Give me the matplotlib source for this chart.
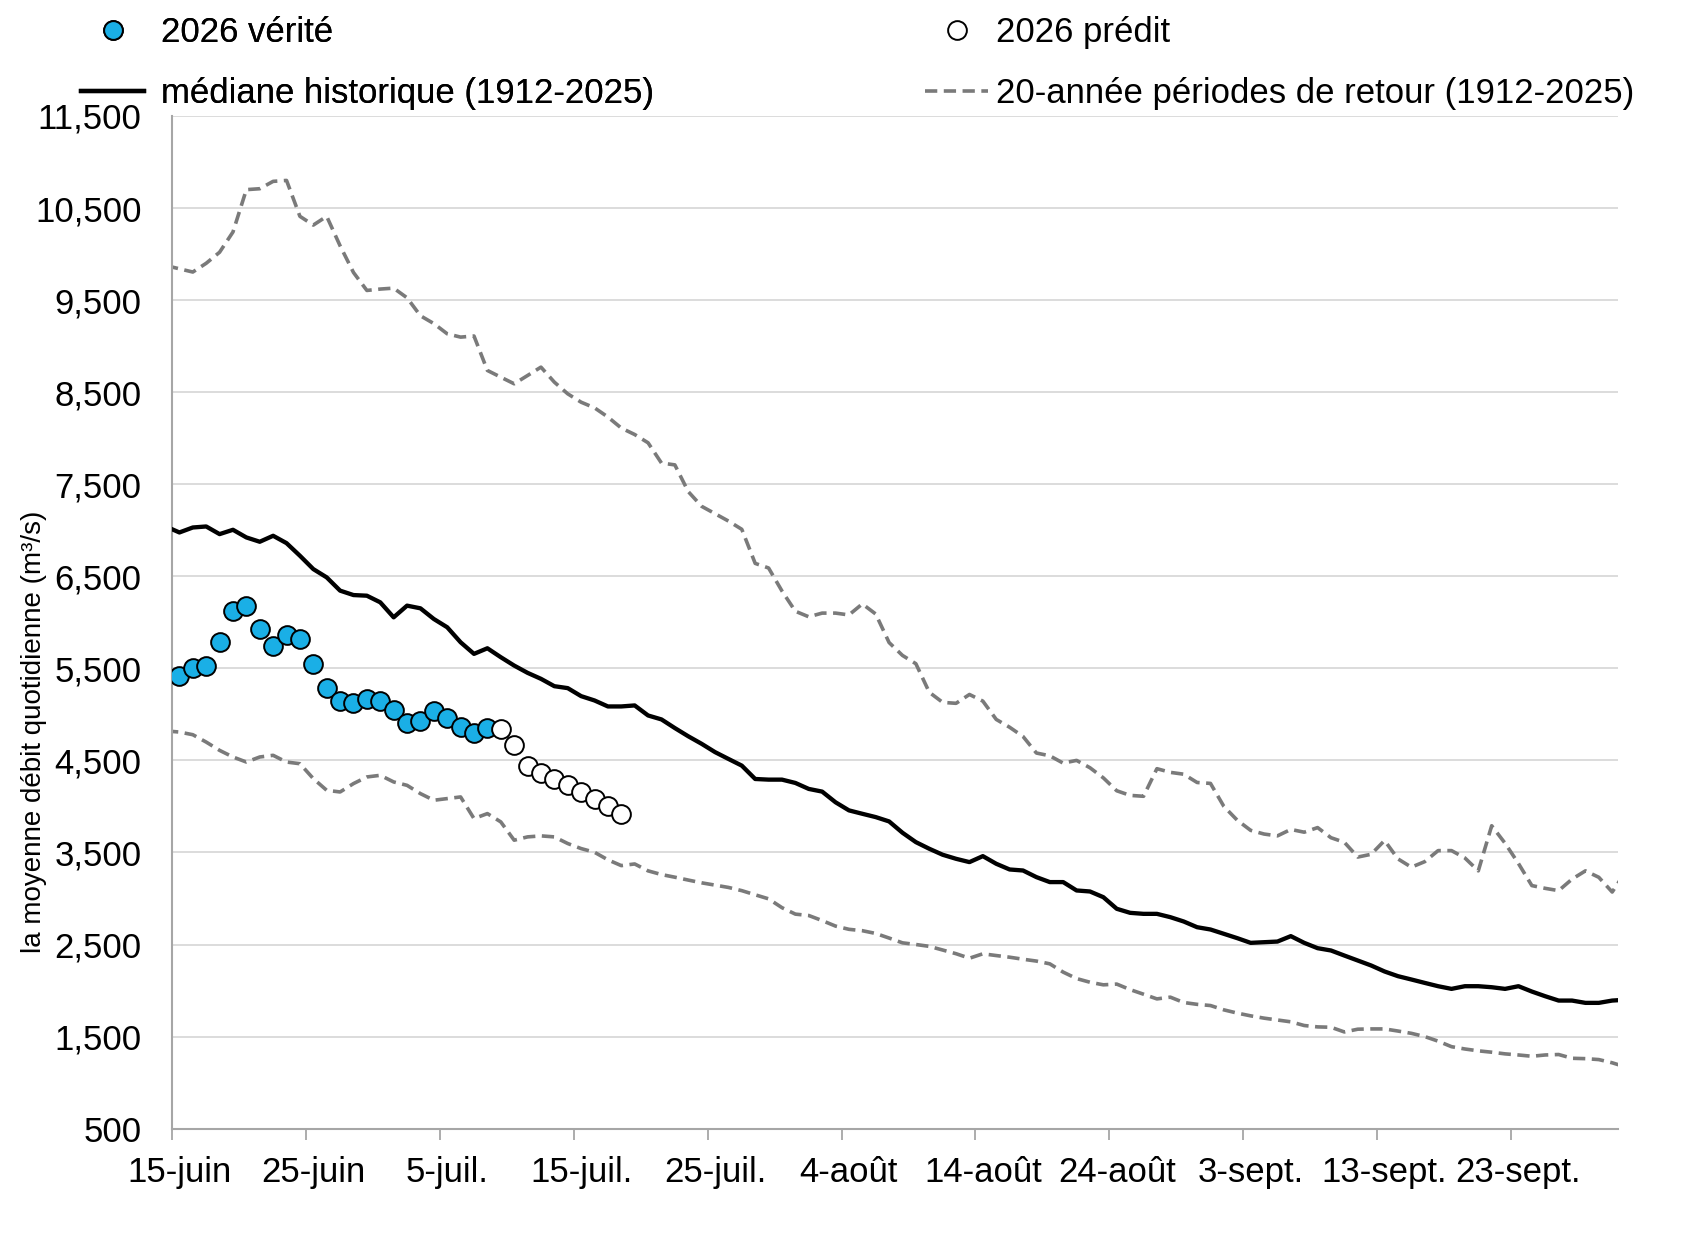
import matplotlib
matplotlib.use("Agg")
import matplotlib.pyplot as plt
from matplotlib.lines import Line2D
from matplotlib.ticker import FuncFormatter, FixedLocator

# ---------------- data ----------------
# day index: 0 = 15-juin ... 107 = 30-sept (lines include 14-juin and 1-oct, clipped by the axis)
line_days = list(range(-1, 109))

median_hist = [7040, 6976, 7030, 7041, 6958, 7005, 6922, 6875, 6940, 6860, 6723,
               6578, 6488, 6344, 6296, 6289, 6217, 6054, 6181, 6152, 6036,
               5946, 5783, 5657, 5718, 5621, 5530, 5451, 5386, 5306, 5285,
               5198, 5151, 5086, 5086, 5097, 4988, 4945, 4851, 4762, 4680,
               4590, 4516, 4443, 4298, 4291, 4291, 4255, 4190, 4161, 4045,
               3957, 3920, 3884, 3837, 3714, 3612, 3540, 3475, 3431, 3395,
               3460, 3377, 3315, 3304, 3232, 3178, 3178, 3087, 3076, 3014,
               2888, 2844, 2833, 2833, 2797, 2750, 2688, 2663, 2616, 2569,
               2518, 2525, 2532, 2591, 2518, 2460, 2435, 2380, 2326, 2272,
               2207, 2156, 2120, 2083, 2047, 2018, 2047, 2047, 2036, 2018,
               2047, 1989, 1938, 1891, 1891, 1866, 1866, 1891, 1900]

upper_20yr = [9875, 9840, 9805, 9900, 10020, 10240, 10700, 10710, 10790, 10800, 10410,
              10315, 10410, 10090, 9800, 9605, 9620, 9630, 9525, 9330, 9245,
              9134, 9098, 9110, 8736, 8663, 8591, 8681, 8772, 8609, 8482,
              8391, 8330, 8230, 8110, 8040, 7950, 7730, 7710, 7420, 7260,
              7180, 7100, 7010, 6640, 6590, 6340, 6120, 6060, 6100, 6100,
              6080, 6200, 6090, 5780, 5640, 5550, 5240, 5130, 5120, 5216,
              5144, 4945, 4860, 4760, 4580, 4550, 4470, 4500, 4420, 4310,
              4170, 4120, 4110, 4410, 4370, 4350, 4260, 4250, 4000, 3850,
              3740, 3700, 3680, 3750, 3720, 3770, 3660, 3610, 3450, 3480,
              3630, 3430, 3340, 3400, 3520, 3520, 3440, 3300, 3790, 3600,
              3380, 3140, 3110, 3085, 3210, 3300, 3230, 3070, 3290]

lower_20yr = [4820, 4808, 4779, 4699, 4609, 4537, 4482, 4537, 4555, 4482, 4464,
              4302, 4175, 4157, 4248, 4320, 4338, 4266, 4229, 4139, 4067,
              4085, 4103, 3868, 3922, 3832, 3633, 3669, 3680, 3669, 3597,
              3542, 3502, 3420, 3357, 3375, 3300, 3260, 3231, 3200, 3170,
              3145, 3120, 3085, 3040, 2996, 2900, 2830, 2815, 2760, 2700,
              2665, 2650, 2620, 2570, 2518, 2500, 2480, 2440, 2400, 2351,
              2399, 2380, 2362, 2340, 2320, 2290, 2200, 2130, 2090, 2062,
              2070, 2010, 1960, 1909, 1928, 1870, 1850, 1837, 1790, 1755,
              1725, 1700, 1680, 1660, 1620, 1605, 1601, 1550, 1580, 1583,
              1583, 1560, 1535, 1500, 1450, 1390, 1365, 1345, 1330, 1312,
              1300, 1286, 1300, 1305, 1264, 1260, 1250, 1215, 1170]

obs_days = list(range(0, 24))
obs_2026 = [5422, 5501, 5530, 5783, 6127, 6181, 5928, 5747, 5863, 5819,
            5548, 5285, 5140, 5126, 5162, 5140, 5042, 4909, 4923, 5032,
            4959, 4862, 4800, 4851]

pred_days = list(range(24, 34))
pred_2026 = [4844, 4663, 4439, 4367, 4302, 4229, 4157, 4085, 4002, 3922]

xtick_days = [0, 10, 20, 30, 40, 50, 60, 70, 80, 90, 100]
xtick_labels = ["15-juin", "25-juin", "5-juil.", "15-juil.", "25-juil.", "4-août",
                "14-août", "24-août", "3-sept.", "13-sept.", "23-sept."]
ytick_values = [500, 1500, 2500, 3500, 4500, 5500, 6500, 7500, 8500, 9500, 10500, 11500]

labels = {
    "obs": "2026 vérité",
    "pred": "2026 prédit",
    "median": "médiane historique (1912-2025)",
    "rp": "20-année périodes de retour (1912-2025)",
}
ylabel = "la moyenne débit quotidienne (m³/s)"

# ---------------- style ----------------
plt.rcParams["font.family"] = ["Liberation Sans", "DejaVu Sans"]
BLUE = "#1AAFE6"
GRAY_DASH = "#7A7A7A"
GRID = "#D9D9D9"
SPINE = "#A6A6A6"
MS = 13.5

fig = plt.figure(figsize=(17, 12.34), dpi=100)
ax = fig.add_axes([0.1012, 0.0854, 0.8503, 0.8206])

dash = (0, (3.4, 1.8))
ax.plot(line_days, upper_20yr, color=GRAY_DASH, lw=2.6, linestyle=dash, zorder=2)
ax.plot(line_days, lower_20yr, color=GRAY_DASH, lw=2.6, linestyle=dash, zorder=2)
ax.plot(line_days, median_hist, color="black", lw=3.1, zorder=3)
ax.plot(obs_days, obs_2026, linestyle="none", marker="o", ms=MS,
        mfc=BLUE, mec="black", mew=1.4, zorder=5)
ax.plot(pred_days, pred_2026, linestyle="none", marker="o", ms=MS,
        mfc="white", mec="black", mew=1.4, zorder=5)

ax.set_xlim(-0.55, 107.4)
ax.set_ylim(500, 11500)

# y axis
ax.yaxis.set_major_locator(FixedLocator(ytick_values))
ax.yaxis.set_major_formatter(FuncFormatter(lambda v, p: f"{int(v):,}"))
ax.tick_params(axis="y", length=0, pad=22, labelsize=25, labelcolor="black")
ax.grid(axis="y", color=GRID, lw=1.3, zorder=0)
ax.set_axisbelow(True)

# x axis: labels on days, tick marks at category boundaries
ax.set_xticks(xtick_days)
ax.set_xticklabels(xtick_labels)
ax.set_xticks([d - 0.55 for d in xtick_days], minor=True)
ax.tick_params(axis="x", which="major", length=0, pad=20, labelsize=25, labelcolor="black")
ax.tick_params(axis="x", which="minor", length=8, width=1.3, color=SPINE, direction="out")

for s in ["top", "right"]:
    ax.spines[s].set_visible(False)
for s in ["left", "bottom"]:
    ax.spines[s].set_color(SPINE)
    ax.spines[s].set_linewidth(1.5)

ax.set_ylabel(ylabel, fontsize=20)
ax.yaxis.set_label_coords(-0.0867, 0.392)

# legend (two columns)
h_obs = Line2D([], [], linestyle="none", marker="o", ms=MS, mfc=BLUE, mec="black", mew=1.4)
h_pred = Line2D([], [], linestyle="none", marker="o", ms=MS, mfc="white", mec="black", mew=1.4)
h_med = Line2D([], [], color="black", lw=3.1)
h_rp = Line2D([], [], color=GRAY_DASH, lw=2.6, linestyle=dash)
leg1 = fig.legend([h_obs, h_med], [labels["obs"], labels["median"]],
                  loc="upper left", bbox_to_anchor=(81 / 1700, 0.987),
                  frameon=False, fontsize=25, handlelength=1.82, handletextpad=0.48,
                  labelspacing=0.8, borderpad=0, borderaxespad=0)
fig.add_artist(leg1)
fig.legend([h_pred, h_rp], [labels["pred"], labels["rp"]],
           loc="upper left", bbox_to_anchor=(925 / 1700, 0.987),
           frameon=False, fontsize=25, handlelength=1.82, handletextpad=0.23,
           labelspacing=0.8, borderpad=0, borderaxespad=0)

fig.savefig("out.png", dpi=100)
